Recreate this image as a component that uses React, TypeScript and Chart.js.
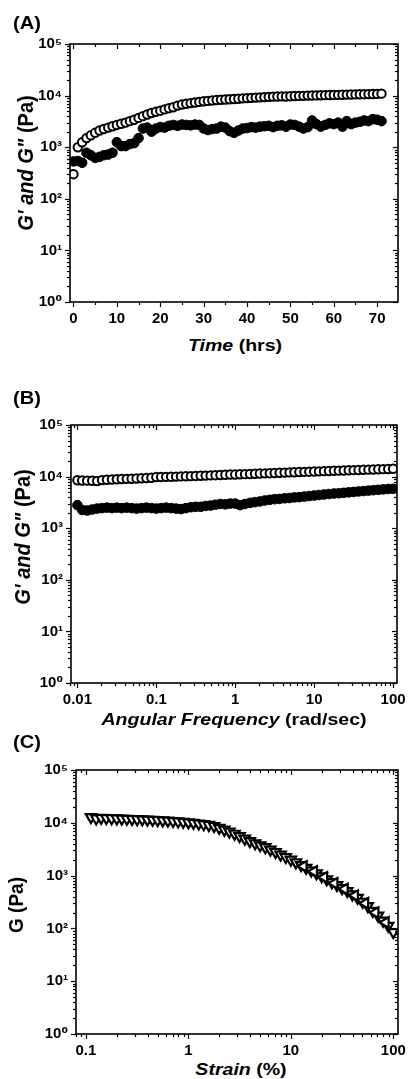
import React, { useEffect, useRef } from 'react';
import { Chart, registerables } from 'chart.js';
Chart.register(...registerables);

// ---------- Panel A : time sweep ----------
const A_TIME = [0,1,2,3,4,5,6,7,8,9,10,11,12,13,14,15,16,17,18,19,20,21,22,23,24,25,26,27,28,29,30,31,32,33,34,35,36,37,38,39,40,41,42,43,44,45,46,47,48,49,50,51,52,53,54,55,56,57,58,59,60,61,62,63,64,65,66,67,68,69,70,71];
const A_G_STORAGE = [300,1000,1250,1500,1700,1900,2100,2250,2400,2550,2700,2850,3000,3200,3400,3700,4000,4300,4600,4850,5100,5400,5700,5950,6400,6700,6950,7150,7350,7550,7750,7900,8050,8200,8300,8400,8500,8600,8700,8850,8950,9050,9150,9250,9350,9450,9550,9600,9650,9600,9700,9800,9850,9900,10000,10050,10100,10150,10200,10250,10300,10350,10400,10450,10500,10550,10600,10650,10700,10750,10800,10900];
const A_G_LOSS = [530,540,500,780,700,620,650,700,720,780,1250,1050,1050,1150,1200,1500,2300,2400,2000,2300,2450,2400,2600,2700,2600,2750,2700,2650,2750,2700,2300,2150,2250,2300,2500,2400,2050,1900,2100,2300,2350,2450,2400,2500,2550,2600,2450,2600,2650,2500,2750,2700,2500,2300,2450,3300,2800,2500,2700,2900,2800,3000,2500,3200,2800,3000,3100,3300,3200,3500,3400,3200];
const A_X_TICKS = [0, 10, 20, 30, 40, 50, 60, 70];
const A_X_MINOR = [5, 15, 25, 35, 45, 55, 65];

// ---------- Panel B : frequency sweep ----------
const B_FREQ = [0.01,0.0115,0.0133,0.0154,0.0178,0.0205,0.0237,0.0274,0.0316,0.0365,0.0422,0.0487,0.0562,0.0649,0.075,0.0866,
  0.1,0.115,0.133,0.154,0.178,0.205,0.237,0.274,0.316,0.365,0.422,0.487,0.562,0.649,0.75,0.866,
  1,1.15,1.33,1.54,1.78,2.05,2.37,2.74,3.16,3.65,4.22,4.87,5.62,6.49,7.5,8.66,
  10,11.5,13.3,15.4,17.8,20.5,23.7,27.4,31.6,36.5,42.2,48.7,56.2,64.9,75,86.6,
  100];
const B_G_STORAGE = [8500,8400,8350,8300,8200,8550,8700,8800,8900,9000,9050,9100,9200,9300,9400,9500,
  9800,9850,9900,9950,10000,10100,10150,10200,10300,10400,10450,10550,10650,10750,10850,10950,
  11000,11100,11150,11250,11350,11450,11550,11650,11750,11850,11950,12050,12150,12250,12350,12450,
  12550,12650,12750,12850,12950,13050,13150,13250,13350,13450,13550,13650,13750,13850,13950,14050,
  14200];
const B_G_LOSS = [2800,2250,2200,2300,2400,2450,2500,2450,2500,2450,2500,2450,2400,2450,2500,2450,
  2400,2450,2500,2450,2400,2350,2450,2550,2600,2600,2700,2750,2850,2950,2900,3000,
  3000,2800,2950,3100,3200,3300,3450,3550,3650,3700,3800,3850,3950,4000,4100,4200,
  4300,4400,4500,4600,4700,4750,4850,4950,5050,5150,5250,5350,5450,5550,5650,5750,
  5800];
const B_X_TICKS = [0.01, 0.1, 1, 10, 100];

// ---------- Panel C : strain sweep ----------
const C_STRAIN = [0.112,0.126,0.141,0.158,0.178,0.2,0.224,0.251,0.282,0.316,0.355,0.398,0.447,0.501,0.562,0.631,0.708,0.794,0.891,
  1,1.12,1.26,1.41,1.58,1.78,2,2.24,2.51,2.82,3.16,3.55,3.98,4.47,5.01,5.62,6.31,7.08,7.94,8.91,
  10,11.2,12.6,14.1,15.8,17.8,20,22.4,25.1,28.2,31.6,35.5,39.8,44.7,50.1,56.2,63.1,70.8,79.4,89.1,100];
const C_G = [12800,12100,12400,12300,12200,12100,12000,11900,11800,11700,11600,11500,11400,11300,11100,11000,10800,10600,10400,
  10200,10000,9700,9400,9100,8700,8000,7400,6800,6200,5600,5000,4500,4100,3750,3450,3100,2800,2500,2250,
  2000,1780,1580,1400,1250,1100,970,850,750,660,580,510,440,380,320,265,215,175,140,112,85];
const C_STRAIN_B = [13.3, 16.8, 21.1, 26.6, 33.5, 42.2, 53.1, 66.8, 84.1];
const C_G_B = [1500, 1200, 930, 720, 560, 420, 300, 200, 130];
const C_X_TICKS = [0.1, 1, 10, 100];

const Y_DECADES = [1, 10, 100, 1000, 10000, 100000];
const SUP = ['\u2070', '\u00b9', '\u00b2', '\u00b3', '\u2074', '\u2075'];

const FONT_FAMILY = "'Liberation Sans', Arial, 'DejaVu Sans', sans-serif";

function logMinors(decades: number[]) {
  const out: number[] = [];
  for (let i = 0; i < decades.length - 1; i++) {
    for (let k = 2; k <= 9; k++) out.push(decades[i] * k);
  }
  return out;
}

const frameTicks = {
  id: 'frameTicks',
  afterDraw(chart: any, _args: any, opts: any) {
    const { ctx, chartArea } = chart;
    const { left, right, top, bottom } = chartArea;
    const xs = chart.scales.x;
    const ys = chart.scales.y;
    ctx.save();
    ctx.strokeStyle = '#000';
    ctx.lineWidth = 1.6;
    ctx.strokeRect(left, top, right - left, bottom - top);
    ctx.lineWidth = 1.2;
    const seg = (x1: number, y1: number, x2: number, y2: number) => {
      ctx.beginPath();
      ctx.moveTo(x1, y1);
      ctx.lineTo(x2, y2);
      ctx.stroke();
    };
    const drawX = (vals: number[], L: number) => {
      for (const v of vals) {
        const px = Math.round(xs.getPixelForValue(v)) + 0.5;
        if (px < left - 1 || px > right + 1) continue;
        seg(px, bottom, px, bottom + L);
        seg(px, top, px, top + L);
      }
    };
    const drawY = (vals: number[], L: number) => {
      for (const v of vals) {
        const py = Math.round(ys.getPixelForValue(v)) + 0.5;
        if (py < top - 1 || py > bottom + 1) continue;
        seg(left - L, py, left, py);
        seg(right - L, py, right, py);
      }
    };
    drawX(opts.xMajor, 5);
    drawX(opts.xMinor, 3);
    drawY(Y_DECADES, 5);
    drawY(logMinors(Y_DECADES), 3);
    ctx.restore();
  },
};

const tickFont = { family: FONT_FAMILY, size: 15, weight: 'bold' as const };

function makeChart(canvas: HTMLCanvasElement, p: any) {
  return new Chart(canvas, {
    type: 'scatter',
    data: { datasets: p.datasets },
    options: {
      animation: false,
      responsive: false,
      maintainAspectRatio: false,
      devicePixelRatio: 1,
      layout: { padding: p.padding },
      plugins: {
        legend: { display: false },
        tooltip: { enabled: false },
        frameTicks: { xMajor: p.xTicks, xMinor: p.xMinor },
      } as any,
      scales: {
        x: {
          type: p.xType,
          min: p.xMin,
          max: p.xMax,
          grid: { display: false, drawTicks: false },
          border: { display: false },
          ticks: {
            font: tickFont,
            color: '#000',
            padding: 8,
            autoSkip: false,
            maxRotation: 0,
            callback: (v: any) => String(v),
          },
          afterBuildTicks: (s: any) => {
            s.ticks = p.xTicks.map((v: number) => ({ value: v }));
          },
          afterFit: (s: any) => {
            s.height = p.xH;
          },
        },
        y: {
          type: 'logarithmic',
          min: 1,
          max: 100000,
          grid: { display: false, drawTicks: false },
          border: { display: false },
          ticks: {
            font: tickFont,
            color: '#000',
            padding: 8,
            autoSkip: false,
            callback: (v: any) => '10' + SUP[Math.round(Math.log10(Number(v)))],
          },
          afterBuildTicks: (s: any) => {
            s.ticks = Y_DECADES.map((v) => ({ value: v }));
          },
          afterFit: (s: any) => {
            s.width = p.yW;
          },
        },
      },
    } as any,
    plugins: [frameTicks as any],
  });
}

const openCircle = {
  pointStyle: 'circle',
  pointRadius: 4.2,
  pointBorderWidth: 2,
  pointBorderColor: '#000',
  pointBackgroundColor: '#fff',
  showLine: false,
};
const filledCircle = {
  pointStyle: 'circle',
  pointRadius: 4.8,
  pointBorderWidth: 1,
  pointBorderColor: '#000',
  pointBackgroundColor: '#000',
  showLine: false,
};
const triangleBase = {
  pointStyle: 'triangle',
  pointRadius: 6,
  pointBorderWidth: 2.2,
  pointBorderColor: '#000',
  pointBackgroundColor: '#fff',
  showLine: false,
};

const zip = (xs: number[], ys: number[]) => xs.map((x, i) => ({ x, y: ys[i] }));

function Panel({ top, height, cfg }: { top: number; height: number; cfg: any }) {
  const ref = useRef<HTMLCanvasElement>(null);
  useEffect(() => {
    if (!ref.current) return;
    const ch = makeChart(ref.current, cfg);
    return () => ch.destroy();
  }, []);
  return (
    <canvas
      ref={ref}
      width={414}
      height={height}
      style={{ position: 'absolute', left: 0, top, width: 414, height }}
    />
  );
}

const textBase: React.CSSProperties = {
  position: 'absolute',
  fontFamily: FONT_FAMILY,
  fontWeight: 'bold',
  color: '#000',
  whiteSpace: 'nowrap',
  lineHeight: 1,
};

function XTitle({ cx, top, italic, rest }: { cx: number; top: number; italic: string; rest: string }) {
  return (
    <div style={{ ...textBase, left: cx, top, fontSize: 17, transform: 'translateX(-50%) scaleX(1.15)' }}>
      <i>{italic}</i> {rest}
    </div>
  );
}

function YTitle({ cx, cy, italic, rest, size }: { cx: number; cy: number; italic: string; rest: string; size: number }) {
  return (
    <div
      style={{
        ...textBase,
        left: cx,
        top: cy,
        fontSize: size,
        transform: 'translate(-50%, -50%) rotate(-90deg) scaleY(1.1)',
      }}
    >
      {italic ? <i>{italic}</i> : null}
      {italic ? ' ' : ''}
      {rest}
    </div>
  );
}

function Label({ left, top, text }: { left: number; top: number; text: string }) {
  return (
    <div style={{ ...textBase, left, top, fontSize: 18, transform: 'scaleX(1.12)', transformOrigin: 'left top' }}>
      {text}
    </div>
  );
}

export default function App() {
  const cfgA = {
    xType: 'linear',
    xMin: -0.8,
    xMax: 74.8,
    xTicks: A_X_TICKS,
    xMinor: A_X_MINOR,
    padding: { left: 0, right: 16, top: 44, bottom: 0 },
    xH: 28,
    yW: 70,
    datasets: [
      { ...openCircle, data: zip(A_TIME, A_G_STORAGE) },
      { ...filledCircle, data: zip(A_TIME, A_G_LOSS) },
    ],
  };
  const cfgB = {
    xType: 'logarithmic',
    xMin: 0.0083,
    xMax: 112,
    xTicks: B_X_TICKS,
    xMinor: logMinors([0.001, 0.01, 0.1, 1, 10, 100]),
    padding: { left: 0, right: 17, top: 45, bottom: 0 },
    xH: 27,
    yW: 71,
    datasets: [
      { ...openCircle, data: zip(B_FREQ, B_G_STORAGE) },
      { ...filledCircle, data: zip(B_FREQ, B_G_LOSS) },
    ],
  };
  const cfgC = {
    xType: 'logarithmic',
    xMin: 0.08,
    xMax: 111,
    xTicks: C_X_TICKS,
    xMinor: logMinors([0.01, 0.1, 1, 10, 100]),
    padding: { left: 0, right: 10, top: 45, bottom: 0 },
    xH: 26,
    yW: 76,
    datasets: [
      { ...triangleBase, pointRotation: 270, data: zip(C_STRAIN_B, C_G_B) },
      { ...triangleBase, pointRotation: 180, data: zip(C_STRAIN, C_G) },
    ],
  };

  return (
    <div style={{ position: 'absolute', left: 0, top: 0, width: 414, height: 1079, background: '#fff', overflow: 'hidden' }}>
      <Panel top={0} height={330} cfg={cfgA} />
      <Panel top={380} height={330} cfg={cfgB} />
      <Panel top={725} height={335} cfg={cfgC} />

      <Label left={13} top={14} text="(A)" />
      <Label left={13} top={389} text="(B)" />
      <Label left={13} top={733} text="(C)" />

      <YTitle cx={25} cy={163} italic={"G' and G\""} rest="(Pa)" size={20} />
      <YTitle cx={22} cy={537} italic={"G' and G\""} rest="(Pa)" size={20} />
      <YTitle cx={16} cy={905} italic="" rest="G (Pa)" size={19} />

      <XTitle cx={235} top={337} italic="Time" rest="(hrs)" />
      <XTitle cx={234} top={711} italic="Angular Frequency" rest="(rad/sec)" />
      <XTitle cx={241} top={1061} italic="Strain" rest="(%)" />
    </div>
  );
}
